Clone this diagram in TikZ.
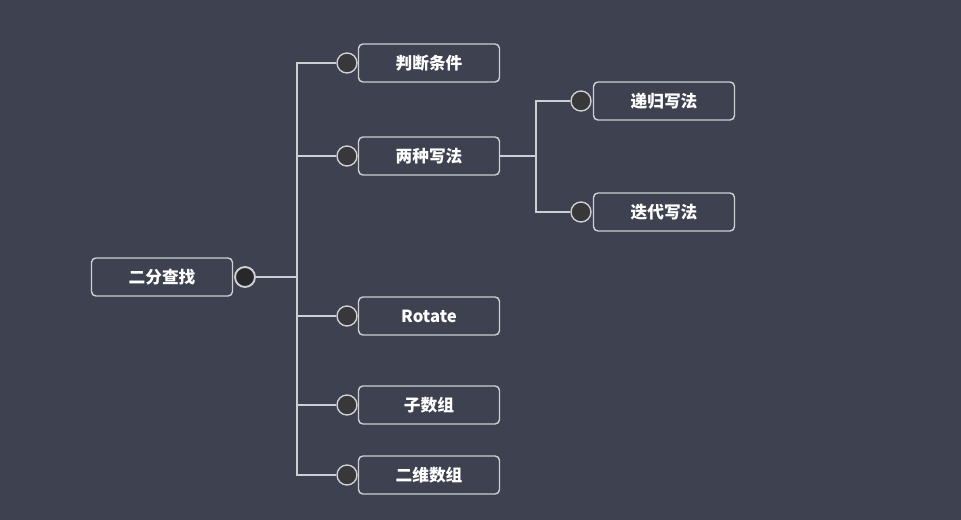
\documentclass[tikz,border=0pt]{standalone}
\usepackage{fontspec}
\usepackage{tikz}
\newfontfamily\cjk{Noto Sans CJK SC}
\usetikzlibrary{shapes,positioning}
\definecolor{board}{RGB}{62,66,80}
\definecolor{chalk}{RGB}{205,207,212}
\definecolor{knob}{RGB}{56,56,58}
\definecolor{rootknob}{RGB}{40,40,42}
\tikzstyle{topicbox}=[rectangle, rounded corners=2.5pt, draw=chalk, line width=0.8pt, align=center, text=white, font=\cjk\bfseries\fontsize{9.5}{11}\selectfont, minimum width=2.82cm, minimum height=0.76cm, inner sep=0pt]
\tikzstyle{knobdot}=[circle, draw=chalk, fill=knob, line width=0.8pt, minimum size=0.4cm, inner sep=0pt]
\tikzstyle{branch}=[draw=chalk, line width=0.8pt]

\begin{document}
\begin{tikzpicture}[x=0.02cm, y=-0.02cm]

\fill[board] (0,0) rectangle (961,520);
\useasboundingbox (0,0) rectangle (961,520);

\node[topicbox](b0) at (162,277) {二分查找};
\node[topicbox](b1) at (429,63) {判断条件};
\node[topicbox](b2) at (429,156) {两种写法};
\node[topicbox](b3) at (429,316) {Rotate};
\node[topicbox](b4) at (429,405) {子数组};
\node[topicbox](b5) at (429,475) {二维数组};
\node[topicbox](b6) at (664,101) {递归写法};
\node[topicbox](b7) at (664,212) {迭代写法};

\node[knobdot, fill=rootknob, line width=1.1pt](d0) at (245,277) {};
\node[knobdot](d1) at (347,63) {};
\node[knobdot](d2) at (347,156) {};
\node[knobdot](d3) at (347,316) {};
\node[knobdot](d4) at (347,405) {};
\node[knobdot](d5) at (347,475) {};
\node[knobdot](d6) at (581,101) {};
\node[knobdot](d7) at (581,212) {};

\coordinate (t0) at (297,277);
\coordinate (t1) at (536,156);

\draw[branch](d0.east) -- (t0);
\draw[branch](t0) |- (d1.west);
\draw[branch](t0) |- (d2.west);
\draw[branch](t0) |- (d3.west);
\draw[branch](t0) |- (d4.west);
\draw[branch](t0) |- (d5.west);

\draw[branch](b2.east) -- (t1);
\draw[branch](t1) |- (d6.west);
\draw[branch](t1) |- (d7.west);

\end{tikzpicture}
\end{document}
